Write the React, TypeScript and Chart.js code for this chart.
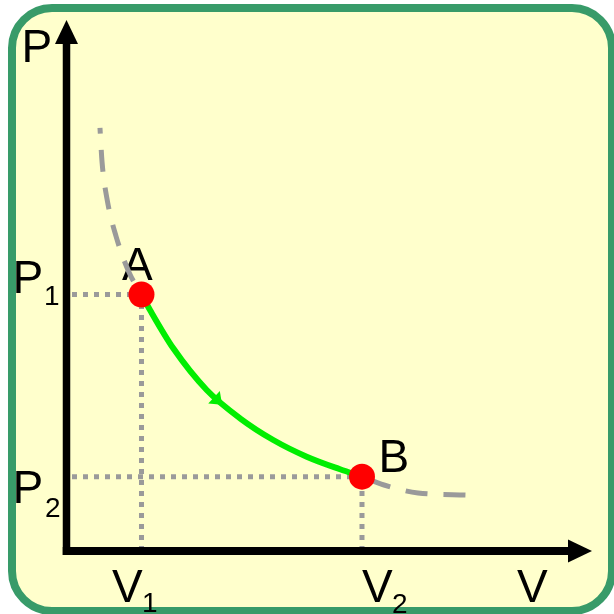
import { useEffect, useRef } from "react";
import { Chart, registerables } from "chart.js";

Chart.register(...registerables);

// State A and state B
const V1 = 1.427;
const V2 = 5.623;
const P1 = 4.83;
const P2 = 1.4;

// isotherm above A (dashed)
const upperV = [0.637, 0.676, 0.771, 0.942, 1.189, V1];
const upperP = [7.97, 7.33, 6.63, 5.93, 5.25, P1];

// process A -> B (solid green)
const processV = [V1, 1.589, 2.032, 2.668, 3.302, 3.935, 4.571, 5.205, V2];
const processP = [P1, 4.539, 3.817, 3.032, 2.499, 2.09, 1.776, 1.539, P2];

// isotherm beyond B (dashed)
const lowerV = [V2, 6.042, 6.689, 7.621];
const lowerP = [P2, 1.243, 1.092, 1.055];

const FONT = '"Liberation Sans", Arial, sans-serif';

const toXY = (xs: number[], ys: number[]) => xs.map((x, i) => ({ x, y: ys[i] }));

const GRAY = "#9a9a9a";

const framePlugin = {
  id: "frame",
  beforeDraw(chart: any) {
    const ctx = chart.ctx as CanvasRenderingContext2D;
    const w = chart.width;
    const h = chart.height;
    ctx.save();
    ctx.fillStyle = "#ffffff";
    ctx.fillRect(0, 0, w, h);
    const l = 12, t = 8, r = w - 2, b = h - 3, rad = 40;
    ctx.beginPath();
    ctx.moveTo(l + rad, t);
    ctx.lineTo(r - rad, t);
    ctx.arcTo(r, t, r, t + rad, rad);
    ctx.lineTo(r, b - rad);
    ctx.arcTo(r, b, r - rad, b, rad);
    ctx.lineTo(l + rad, b);
    ctx.arcTo(l, b, l, b - rad, rad);
    ctx.lineTo(l, t + rad);
    ctx.arcTo(l, t, l + rad, t, rad);
    ctx.closePath();
    ctx.fillStyle = "#ffffcc";
    ctx.fill();
    ctx.lineWidth = 8;
    ctx.strokeStyle = "#389b69";
    ctx.stroke();
    ctx.restore();
  },
};

const labelsPlugin = {
  id: "labels",
  beforeDatasetsDraw(chart: any) {
    const ctx = chart.ctx as CanvasRenderingContext2D;
    const xs = chart.scales.x;
    const ys = chart.scales.y;
    const x0 = xs.getPixelForValue(0);
    const y0 = ys.getPixelForValue(0);
    const xV1 = xs.getPixelForValue(V1);
    const xV2 = xs.getPixelForValue(V2);
    const yP1 = ys.getPixelForValue(P1);
    const yP2 = ys.getPixelForValue(P2);
    const big = `46px ${FONT}`;
    const small = `28px ${FONT}`;
    ctx.save();
    ctx.fillStyle = "#000000";
    ctx.textAlign = "left";
    ctx.textBaseline = "alphabetic";
    const put = (s: string, f: string, x: number, y: number) => {
      ctx.font = f;
      ctx.fillText(s, x, y);
    };
    // axis titles
    put("P", big, x0 - 45, ys.top + 42);
    put("V", big, xs.right - 75, y0 + 51);
    // pressure levels
    put("P", big, x0 - 54, yP1 - 1.5);
    put("1", small, x0 - 22.5, yP1 + 10.5);
    put("P", big, x0 - 54, yP2 + 26);
    put("2", small, x0 - 21.5, yP2 + 40);
    // volume levels
    put("V", big, xV1 - 29.5, y0 + 51);
    put("1", small, xV1 + 0.5, y0 + 61);
    put("V", big, xV2, y0 + 51);
    put("2", small, xV2 + 30, y0 + 62);
    // state names
    put("A", big, xV1 - 19.5, yP1 - 14.5);
    put("B", big, xV2 + 16.5, yP2 - 5);
    ctx.restore();
  },
};

const axesPlugin = {
  id: "axesArrows",
  afterDatasetsDraw(chart: any) {
    const ctx = chart.ctx as CanvasRenderingContext2D;
    const xs = chart.scales.x;
    const ys = chart.scales.y;
    const x0 = xs.getPixelForValue(0);
    const y0 = ys.getPixelForValue(0);
    const top = ys.top;
    const right = xs.right;
    const head = 24;
    const half = 11.5;
    ctx.save();
    ctx.fillStyle = "#000000";
    // vertical axis
    ctx.fillRect(x0 - 3.75, top + head - 1, 7.5, y0 + 4 - (top + head - 1));
    ctx.beginPath();
    ctx.moveTo(x0, top);
    ctx.lineTo(x0 + half, top + head);
    ctx.lineTo(x0 - half, top + head);
    ctx.closePath();
    ctx.fill();
    // horizontal axis
    ctx.fillRect(x0 - 3.75, y0 - 4, right - head + 1 - (x0 - 3.75), 8);
    ctx.beginPath();
    ctx.moveTo(right, y0);
    ctx.lineTo(right - head, y0 - half);
    ctx.lineTo(right - head, y0 + half);
    ctx.closePath();
    ctx.fill();

    // direction arrow on the A -> B process
    const pts = chart.getDatasetMeta(1).data as any[];
    const i = 3;
    const t = 0.22;
    const p0 = pts[i];
    const p3 = pts[i + 1];
    if (p0 && p3) {
      const c1x = p0.cp2x ?? p0.x, c1y = p0.cp2y ?? p0.y;
      const c2x = p3.cp1x ?? p3.x, c2y = p3.cp1y ?? p3.y;
      const u = 1 - t;
      const bx = u * u * u * p0.x + 3 * u * u * t * c1x + 3 * u * t * t * c2x + t * t * t * p3.x;
      const by = u * u * u * p0.y + 3 * u * u * t * c1y + 3 * u * t * t * c2y + t * t * t * p3.y;
      const dx = 3 * u * u * (c1x - p0.x) + 6 * u * t * (c2x - c1x) + 3 * t * t * (p3.x - c2x);
      const dy = 3 * u * u * (c1y - p0.y) + 6 * u * t * (c2y - c1y) + 3 * t * t * (p3.y - c2y);
      const len = Math.hypot(dx, dy) || 1;
      const ux = dx / len, uy = dy / len;
      const nx = -uy, ny = ux;
      ctx.fillStyle = "#00ee00";
      ctx.beginPath();
      ctx.moveTo(bx + ux * 11, by + uy * 11);
      ctx.lineTo(bx + nx * 8.5, by + ny * 8.5);
      ctx.lineTo(bx - nx * 8.5, by - ny * 8.5);
      ctx.closePath();
      ctx.fill();
    }
    ctx.restore();
  },
};

export default function App() {
  const ref = useRef<HTMLCanvasElement | null>(null);

  useEffect(() => {
    document.body.style.margin = "0";
    const canvas = ref.current;
    if (!canvas) return;

    const guide = (pts: { x: number; y: number }[], offset: number) => ({
      data: pts,
      borderColor: GRAY,
      borderWidth: 5,
      borderDash: [5, 6],
      borderDashOffset: offset,
      pointRadius: 0,
      tension: 0,
      clip: false as const,
      order: 3,
    });

    const chart = new Chart(canvas, {
      type: "line",
      data: {
        datasets: [
          {
            data: [
              { x: V1, y: P1 },
              { x: V2, y: P2 },
            ],
            showLine: false,
            pointRadius: 13,
            pointHoverRadius: 13,
            pointBackgroundColor: "#ff0000",
            pointBorderWidth: 0,
            clip: false as const,
            order: 0,
          },
          {
            data: toXY(processV, processP),
            borderColor: "#00ee00",
            borderWidth: 6,
            pointRadius: 0,
            cubicInterpolationMode: "monotone",
            clip: false as const,
            order: 1,
          },
          {
            data: toXY(upperV, upperP),
            borderColor: GRAY,
            borderWidth: 5,
            borderDash: [22, 16],
            borderDashOffset: 16,
            pointRadius: 0,
            cubicInterpolationMode: "monotone",
            clip: false as const,
            order: 2,
          },
          {
            data: toXY(lowerV, lowerP),
            borderColor: GRAY,
            borderWidth: 5,
            borderDash: [22, 16],
            borderDashOffset: 30,
            pointRadius: 0,
            cubicInterpolationMode: "monotone",
            clip: false as const,
            order: 2,
          },
          guide([{ x: 0, y: P1 }, { x: V1, y: P1 }], 5.5),
          guide([{ x: 0, y: P2 }, { x: V2, y: P2 }], 5.5),
          guide([{ x: V1, y: 0 }, { x: V1, y: P1 }], 0),
          guide([{ x: V2, y: 0 }, { x: V2, y: P2 }], 0),
        ] as any,
      },
      options: {
        animation: false,
        responsive: false,
        devicePixelRatio: 1,
        events: [],
        layout: { padding: { left: 66.5, right: 22, top: 20, bottom: 63 } },
        scales: {
          x: { type: "linear", min: 0, max: 10, display: false },
          y: { type: "linear", min: 0, max: 10, display: false },
        },
        plugins: {
          legend: { display: false },
          tooltip: { enabled: false },
        },
      },
      plugins: [framePlugin, labelsPlugin, axesPlugin],
    });

    return () => chart.destroy();
  }, []);

  return (
    <div style={{ width: 614, height: 614 }}>
      <canvas ref={ref} width={614} height={614} style={{ display: "block" }} />
    </div>
  );
}
